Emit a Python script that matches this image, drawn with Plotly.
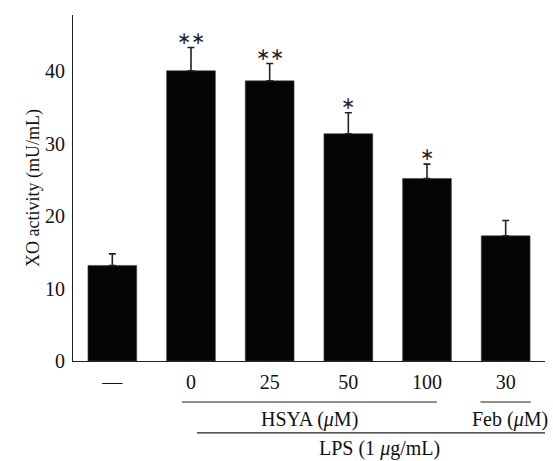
import plotly.graph_objects as go

categories = ["—", "0", "25", "50", "100", "30"]
xo_activity = [13.2, 40.1, 38.7, 31.4, 25.2, 17.3]
xo_error = [1.6, 3.2, 2.4, 2.9, 2.0, 2.1]
significance = ["", "∗∗", "∗∗", "∗", "∗", ""]
y_tick_values = [0, 10, 20, 30, 40]

FONT = "Liberation Serif"
FS = 20
idx = list(range(len(categories)))

fig = go.Figure()
fig.add_trace(go.Bar(
    x=idx, y=xo_activity, width=0.62,
    marker=dict(color="#050505", line=dict(color="#444", width=0.6)),
    error_y=dict(type="data", array=xo_error, arrayminus=[0]*len(xo_error),
                 symmetric=False, color="#222", thickness=1.6, width=3.5),
    showlegend=False,
))

for i, v, e, s in zip(idx, xo_activity, xo_error, significance):
    if s:
        fig.add_annotation(x=i, y=v + e, text=s, showarrow=False, yanchor="bottom",
                           yshift=-2, font=dict(family=FONT, size=17, color="#222"))

# group brackets
def hline(x0, x1, yp):
    fig.add_shape(type="line", xref="x", yref="paper", x0=x0, x1=x1, y0=yp, y1=yp,
                  line=dict(color="#222", width=1.2))

def label(x, yp, text):
    fig.add_annotation(xref="x", yref="paper", x=x, y=yp, text=text, showarrow=False,
                       yanchor="middle", font=dict(family=FONT, size=FS, color="#111"))

hline(1 - 0.115, 4 + 0.125, -0.1185)
label(2.5, -0.168, "HSYA (<i>μ</i>M)")
hline(5 - 0.32, 5 + 0.32, -0.1185)
label(5.05, -0.168, "Feb (<i>μ</i>M)")
hline(1.076, 6.6, -0.208)
label(3.4, -0.254, "LPS (1 <i>μ</i>g/mL)")

fig.update_layout(
    width=553, height=461,
    margin=dict(l=73, r=8, t=15, b=100),
    plot_bgcolor="white", paper_bgcolor="white",
    font=dict(family=FONT, size=FS, color="#111"),
)
fig.update_xaxes(range=[-0.5, 5.5], tickvals=idx, ticktext=categories,
                 showline=True, linecolor="#222",
                 linewidth=1.2, ticks="", showgrid=False, zeroline=False,
                 tickfont=dict(family=FONT, size=FS), ticklabelstandoff=3)
fig.update_yaxes(range=[0, 47.8], showline=True, linecolor="#222", linewidth=1.2,
                 ticks="", showgrid=False, zeroline=False, tickvals=y_tick_values,
                 tickfont=dict(family=FONT, size=FS), ticklabelstandoff=3,
                 title=dict(text="XO activity (mU/mL)", font=dict(family=FONT, size=18),
                            standoff=0))

fig.write_html("out.html", config={"displayModeBar": False},
               post_script="document.body.style.margin='0';")
